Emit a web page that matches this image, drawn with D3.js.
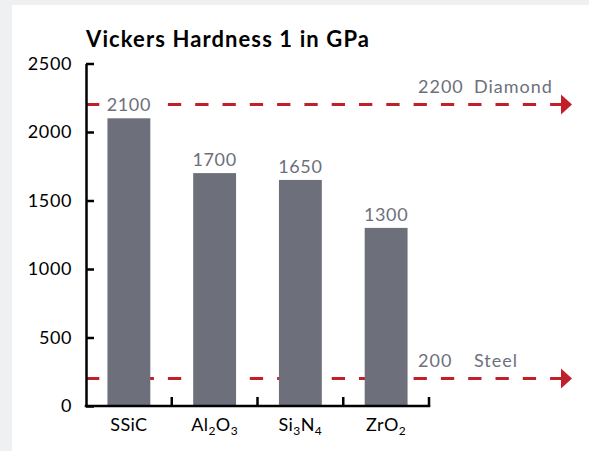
<!DOCTYPE html>
<html>
<head>
<meta charset="utf-8">
<script src="https://cdn.jsdelivr.net/npm/d3@7"></script>
<style>
  body { margin: 0; background: #eff0f2; }
  svg { display: block; }
</style>
</head>
<body>
<div id="chart"></div>
<script>
// chart values
var categories = ["SSiC", "Al2O3", "Si3N4", "ZrO2"]
var hardness = [2100, 1700, 1650, 1300]
var yTicks = [0, 500, 1000, 1500, 2000, 2500]
var refValues = [2200, 200]
var refNames = ["Diamond", "Steel"]

// label pieces, so the numbers in formulas can be subscripts
var categoryParts = {
    "SSiC": [["SSiC", false]],
    "Al2O3": [["Al", false], ["2", true], ["O", false], ["3", true]],
    "Si3N4": [["Si", false], ["3", true], ["N", false], ["4", true]],
    "ZrO2": [["ZrO", false], ["2", true]]
}

var outerWidth = 589,
    outerHeight = 451
var margin = { top: 63.5, right: 160, bottom: 45, left: 86 }
var innerWidth = 429 - margin.left
var innerHeight = 406 - margin.top

var barColor = "#6d707a",
    textGray = "#6d707a",
    refColor = "#c1202a",
    fontFamily = "Lato, 'Open Sans', sans-serif"

var svg = d3.select("#chart")
    .append("svg")
    .attr("width", outerWidth)
    .attr("height", outerHeight)
    .style("font-family", fontFamily)

// grey page behind, white card
svg.append("rect")
    .attr("width", outerWidth)
    .attr("height", outerHeight)
    .attr("fill", "#eff0f2")
svg.append("rect")
    .attr("x", 12)
    .attr("y", 5)
    .attr("width", outerWidth - 12)
    .attr("height", outerHeight - 5)
    .attr("fill", "#ffffff")

svg.append("text")
    .attr("x", 86)
    .attr("y", 47)
    .attr("font-size", "22px")
    .attr("font-weight", "bold")
    .attr("letter-spacing", "1.1px")
    .attr("fill", "#000")
    .text("Vickers Hardness 1 in GPa")

var plot = svg.append("g")
    .attr("transform", "translate(" + margin.left + "," + margin.top + ")")

var xScale = d3.scaleBand()
    .domain(categories)
    .range([0, innerWidth])
    .paddingInner(0.5)
    .paddingOuter(0.25)

var yScale = d3.scaleLinear()
    .domain([0, 2500])
    .range([innerHeight, 0])

// reference lines (diamond, steel) go under the bars
var lineEnd = 561 - margin.left
var refs = plot.selectAll(".ref")
    .data(refValues)
    .enter()
    .append("g")
    .attr("class", "ref")

refs.append("line")
    .attr("x1", 0)
    .attr("x2", lineEnd)
    .attr("y1", d => yScale(d))
    .attr("y2", d => yScale(d))
    .attr("stroke", refColor)
    .attr("stroke-width", 3)
    .attr("stroke-dasharray", "13.3,14")

refs.append("path")
    .attr("d", d => "M" + lineEnd + "," + (yScale(d) - 10) + "L" + (lineEnd + 11) + "," + yScale(d) + "L" + lineEnd + "," + (yScale(d) + 10) + "Z")
    .attr("fill", refColor)

refs.append("text")
    .attr("x", 418 - margin.left)
    .attr("y", d => yScale(d) - 12)
    .attr("font-size", "18px")
    .attr("letter-spacing", "1px")
    .attr("fill", textGray)
    .text(d => d)

refs.append("text")
    .attr("x", 474 - margin.left)
    .attr("y", d => yScale(d) - 12)
    .attr("font-size", "18px")
    .attr("letter-spacing", "1px")
    .attr("fill", textGray)
    .text((d, i) => refNames[i])

// bars
plot.selectAll(".bar")
    .data(hardness)
    .enter()
    .append("rect")
    .attr("class", "bar")
    .attr("x", (d, i) => xScale(categories[i]))
    .attr("y", d => yScale(d))
    .attr("width", xScale.bandwidth())
    .attr("height", d => innerHeight - yScale(d))
    .attr("fill", barColor)

// value labels, white box behind so the dashed line stops at the number
var valueLabels = plot.selectAll(".val")
    .data(hardness)
    .enter()
    .append("g")
    .attr("class", "val")

valueLabels.append("text")
    .attr("x", (d, i) => xScale(categories[i]) + xScale.bandwidth() / 2)
    .attr("y", d => yScale(d) - 7)
    .attr("text-anchor", "middle")
    .attr("font-size", "18px")
    .attr("letter-spacing", "0.6px")
    .attr("fill", textGray)
    .text(d => d)

valueLabels.each(function() {
    var t = d3.select(this).select("text")
    var bb = t.node().getBBox()
    d3.select(this).insert("rect", "text")
        .attr("x", bb.x - 5)
        .attr("y", bb.y)
        .attr("width", bb.width + 10)
        .attr("height", bb.height)
        .attr("fill", "#fff")
})

// y axis, ticks pointing inward
var yAxis = plot.append("g")
    .call(d3.axisLeft(yScale)
        .tickValues(yTicks)
        .tickFormat(d3.format("d"))
        .tickSizeInner(-8)
        .tickSizeOuter(0)
        .tickPadding(14))
yAxis.select(".domain").attr("stroke", "#000").attr("stroke-width", 2.5)
yAxis.selectAll(".tick line").attr("stroke", "#000").attr("stroke-width", 2.5)
yAxis.selectAll(".tick text")
    .attr("font-size", "18px")
    .attr("letter-spacing", "0.6px")
    .attr("font-family", fontFamily)
    .attr("fill", "#000")

// x axis line with separators between categories
var xAxis = plot.append("g")
    .attr("transform", "translate(0," + innerHeight + ")")
xAxis.append("line")
    .attr("x1", -1.25)
    .attr("x2", innerWidth + 1.25)
    .attr("stroke", "#000")
    .attr("stroke-width", 2.5)

var step = xScale.step()
xAxis.selectAll(".sep")
    .data(categories)
    .enter()
    .append("line")
    .attr("class", "sep")
    .attr("x1", d => xScale(d) + xScale.bandwidth() + step * 0.25)
    .attr("x2", d => xScale(d) + xScale.bandwidth() + step * 0.25)
    .attr("y1", 0)
    .attr("y2", -9)
    .attr("stroke", "#000")
    .attr("stroke-width", 2.5)

var catText = xAxis.selectAll(".cat")
    .data(categories)
    .enter()
    .append("text")
    .attr("class", "cat")
    .attr("x", d => xScale(d) + xScale.bandwidth() / 2)
    .attr("y", 25)
    .attr("text-anchor", "middle")
    .attr("font-size", "18px")
    .attr("letter-spacing", "0.4px")
    .attr("fill", "#000")

catText.each(function(d) {
    var el = d3.select(this)
    var shift = 0
    categoryParts[d].forEach(function(p) {
        var target = p[1] ? 4 : 0
        el.append("tspan")
            .attr("font-size", p[1] ? "12px" : "18px")
            .attr("dy", target - shift)
            .text(p[0])
        shift = target
    })
})
</script>
</body>
</html>
